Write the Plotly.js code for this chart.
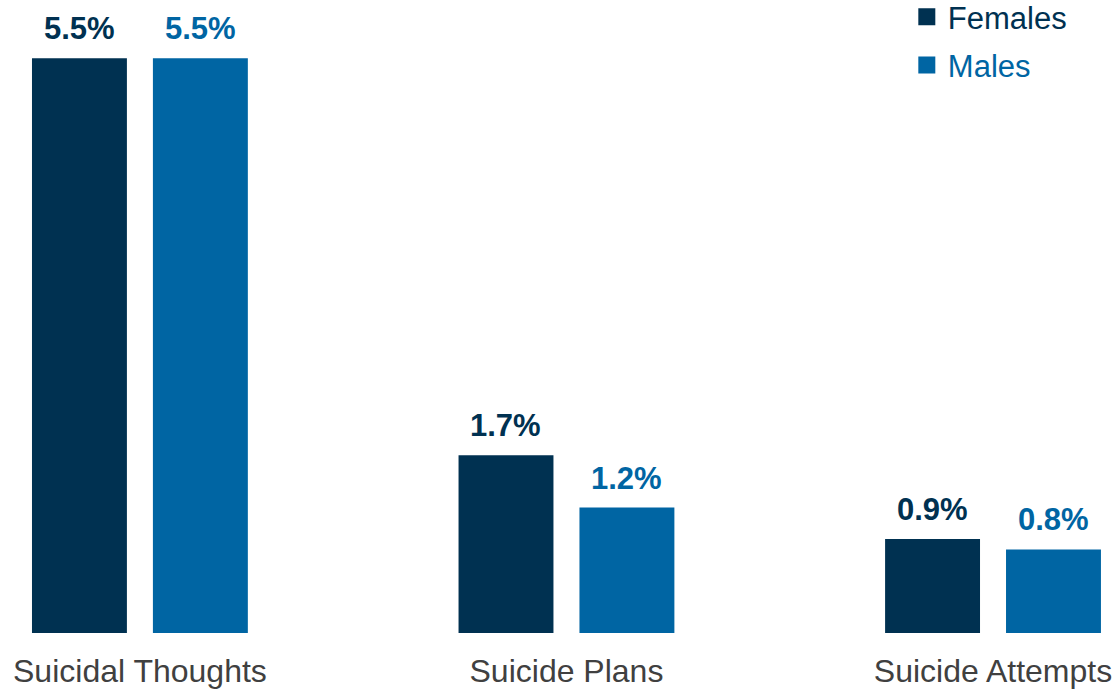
<!DOCTYPE html>
<html>
<head>
<meta charset="utf-8">
<script src="https://cdn.plot.ly/plotly-3.0.1.min.js"></script>
<style>html,body{margin:0;padding:0;background:#fff;}#chart{width:1118px;height:691px;}</style>
</head>
<body>
<div id="chart"></div>
<script>
const categories = ["Suicidal Thoughts", "Suicide Plans", "Suicide Attempts"];
const females = [5.5, 1.7, 0.9];
const males = [5.5, 1.2, 0.8];
const seriesNames = ["Females", "Males"];
const colors = ["#003151", "#0065a3"];

const fontFam = "Arial, 'Liberation Sans', sans-serif";
const seriesVals = [females, males];
const groupShift = [-60.5, 60.5];

function mk(vals, i) {
  return {
    type: "bar",
    x: categories,
    y: vals,
    name: '<span style="color:' + colors[i] + '">' + seriesNames[i] + '</span>',
    legendgroup: "g" + i,
    marker: {color: colors[i], line: {width: 0}},
    hoverinfo: "skip"
  };
}
const data = [mk(females, 0), mk(males, 1)];

const annotations = [];
seriesVals.forEach((vals, i) => {
  vals.forEach((v, j) => {
    annotations.push({
      x: categories[j], y: v, xref: "x", yref: "y",
      text: "<b>" + v.toFixed(1) + "%</b>",
      showarrow: false, xanchor: "center", yanchor: "bottom",
      xshift: groupShift[i], yshift: 10,
      font: {family: fontFam, size: 31, color: colors[i]}
    });
  });
});

const layout = {
  width: 1118, height: 691,
  margin: {l: 0, r: 0, t: 0, b: 58},
  paper_bgcolor: "#fff", plot_bgcolor: "#fff",
  barmode: "group",
  bargap: 0.433,
  bargroupgap: 0.215,
  showlegend: true,
  legend: {
    x: 0.812, xanchor: "left", y: 1, yanchor: "top",
    font: {family: fontFam, size: 31, color: "#003151"},
    bgcolor: "rgba(0,0,0,0)",
    traceorder: "grouped",
    tracegroupgap: 5
  },
  annotations: annotations,
  xaxis: {
    range: [-0.328, 2.293],
    showgrid: false, zeroline: false, showline: false,
    ticks: "", tickfont: {family: fontFam, size: 32, color: "#404040"},
    ticklabelstandoff: 16
  },
  yaxis: {
    range: [0, 6.057],
    visible: false, showgrid: false, zeroline: false
  }
};
Plotly.newPlot("chart", data, layout, {displayModeBar: false, staticPlot: true}).then(gd => {
  gd.querySelectorAll(".legend .legendpoints path").forEach(p => {
    p.removeAttribute("transform");
    p.setAttribute("d", "M27.5,8.5H10.5V-8.5H27.5Z");
  });
  const lg = gd.querySelector(".legend");
  if (lg) {
    const t = lg.getAttribute("transform") || "";
    lg.setAttribute("transform", t + " translate(0,-10)");
  }
});
</script>
</body>
</html>
